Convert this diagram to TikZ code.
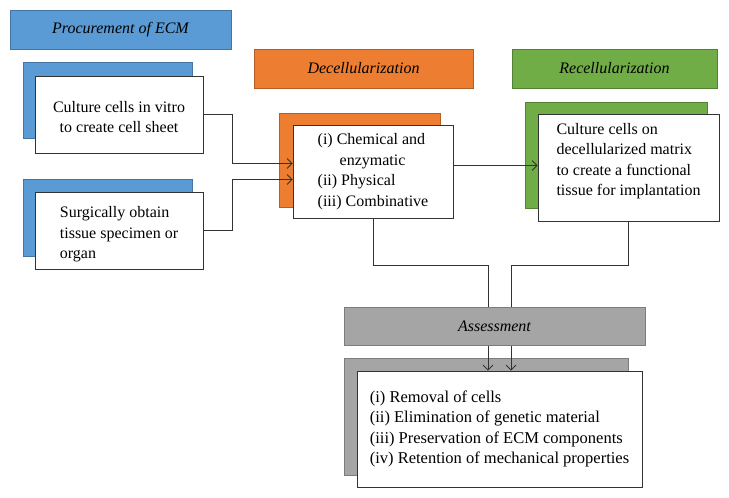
\documentclass[tikz,border=0pt]{standalone}
\usepackage{fontspec}
\setmainfont{Liberation Serif}
\usetikzlibrary{positioning,arrows.meta}

\definecolor{procblue}{HTML}{5B9BD5}
\definecolor{decorange}{HTML}{ED7D31}
\definecolor{recgreen}{HTML}{70AD47}
\definecolor{assgray}{HTML}{A5A5A5}

\tikzset{
  header/.style={draw=#1!75!black, fill=#1, line width=0.6pt, inner sep=0pt,
    font=\fontsize{16}{19}\selectfont\itshape},
  shade/.style={draw=#1!75!black, fill=#1, line width=0.5pt, inner sep=0pt},
  stepbox/.style={draw=black!80, fill=white, line width=0.8pt, inner sep=0pt,
    font=\fontsize{#1}{20.5}\selectfont},
  stepbox/.default=16,
  link/.style={draw=black!80, line width=0.8pt, -{Straight Barb[length=5pt,width=10pt]}}
}

\begin{document}
\begin{tikzpicture}[x=1pt, y=-1pt]
    \useasboundingbox (0,0) rectangle (729,498);
    % shadow boxes
    \node (shCult) at (107.5,100) [shade=procblue, minimum width=169pt, minimum height=76pt] {};
    \node (shSurg) at (107.5,217.5) [shade=procblue, minimum width=169pt, minimum height=77pt] {};
    \node (shChem) at (359.5,160) [shade=decorange, minimum width=161pt, minimum height=94pt] {};
    \node (shRec) at (616,155) [shade=recgreen, minimum width=182pt, minimum height=106pt] {};
    \node (shAss) at (486,416.5) [shade=assgray, minimum width=284pt, minimum height=117pt] {};
    % white boxes
    \node (cult) at (119,114.5) [stepbox, minimum width=168pt, minimum height=77pt, align=center, text height=37pt]
      {Culture cells in vitro\\to create cell sheet};
    \node (surg) at (119,230.5) [stepbox, minimum width=168pt, minimum height=77pt, align=left, text height=60pt]
      {Surgically obtain\\tissue specimen or\\organ};
    \node (chem) at (373,171.5) [stepbox, minimum width=160pt, minimum height=93pt, align=left]
      {(i) Chemical and\\\hspace*{22pt}enzymatic\\(ii) Physical\\(iii) Combinative};
    \node (recbox) at (628.5,167.5) [stepbox, minimum width=181pt, minimum height=107pt, align=left, text depth=16pt]
      {Culture cells on\\decellularized matrix\\to create a functional\\tissue for implantation};
    \node (assbox) at (499.5,429) [stepbox=16.5, minimum width=285pt, minimum height=116pt, align=left]
      {(i) Removal of cells\\(ii) Elimination of genetic material\\(iii) Preservation of ECM components\\(iv) Retention of mechanical properties};
    % connectors
    \coordinate (jL) at (232,0);
    \coordinate (jM) at (0,265);
    \draw[link] (cult.east) -| ([yshift=8pt]chem.west -| jL) -- ([yshift=8pt]chem.west);
    \draw[link] (surg.east) -| ([yshift=-8pt]chem.west -| jL) -- ([yshift=-8pt]chem.west);
    \draw[link] ([yshift=6pt]chem.east) -- ([yshift=6pt]chem.east -| recbox.west);
    \draw[link] (chem.south) -- (chem.south |- jM) -- ([xshift=-11.5pt]assbox.north |- jM) -- ([xshift=-11.5pt]assbox.north);
    \draw[link] (recbox.south) -- (recbox.south |- jM) -- ([xshift=11.5pt]assbox.north |- jM) -- ([xshift=11.5pt]assbox.north);
    % stage headers
    \node (procHead) at (120.5,29.5) [header=procblue, minimum width=221pt, minimum height=39pt] {Procurement of ECM};
    \node (decHead) at (363.5,68.5) [header=decorange, minimum width=219pt, minimum height=39pt] {Decellularization};
    \node (recHead) at (614.5,68.5) [header=recgreen, minimum width=205pt, minimum height=39pt] {Recellularization};
    \node (assHead) at (494.5,326) [header=assgray, minimum width=301pt, minimum height=38pt] {Assessment};
\end{tikzpicture}
\end{document}
